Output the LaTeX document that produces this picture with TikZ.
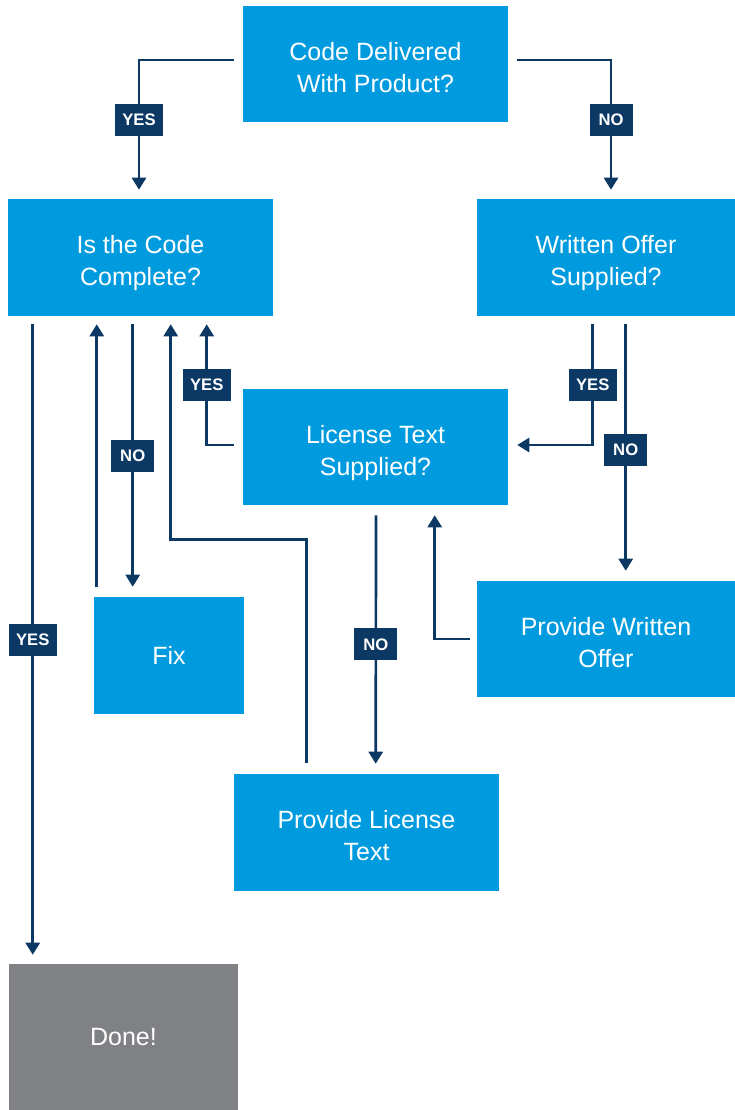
\documentclass[tikz,border=0pt]{standalone}
\usepackage{fontspec}
\setmainfont{Liberation Sans}
\usetikzlibrary{arrows.meta}
\definecolor{boxblue}{RGB}{0,155,222}
\definecolor{navy}{RGB}{12,56,100}
\definecolor{donegray}{RGB}{128,129,132}
\tikzset{
  boxtext/.style={text=white, align=center, inner sep=0pt,
    font=\fontsize{18.75pt}{24pt}\selectfont},
  box/.style={rectangle, fill=boxblue, inner sep=0pt,
    label={[boxtext, yshift=-4.2pt]center:{\strut #1\strut}}},
  onebox/.style={rectangle, fill=boxblue, inner sep=0pt,
    label={[boxtext, yshift=-1.8pt]center:{\strut #1}}},
  donebox/.style={onebox={#1}, fill=donegray},
  conn/.style={draw=navy, line width=2pt},
  arr/.style={conn, -{Triangle[width=10.5pt,length=9pt]}},
  lbl/.style={rectangle, fill=navy, text=white, inner sep=0pt,
    minimum height=24pt, font=\fontsize{12.5pt}{14pt}\selectfont\bfseries},
  yeslbl/.style={lbl, minimum width=36pt},
  nolbl/.style={lbl, minimum width=32.25pt}
}
\begin{document}
\begin{tikzpicture}[x=0.75pt,y=-0.75pt]
\useasboundingbox (0,0) rectangle (735,1110);
\node[box={Code Delivered\\With Product?}, minimum width=198.75pt, minimum height=87pt] (cd) at (375.5,64) {};
\node[box={Is the Code\\Complete?}, minimum width=198.75pt, minimum height=87.75pt] (ic) at (140.5,257.5) {};
\node[box={Written Offer\\Supplied?}, minimum width=193.5pt, minimum height=87.75pt] (wo) at (606,257.5) {};
\node[box={License Text\\Supplied?}, minimum width=198.75pt, minimum height=87pt] (lt) at (375.5,447) {};
\node[onebox={Fix}, minimum width=112.5pt, minimum height=87.75pt] (fix) at (169,655.5) {};
\node[box={Provide Written\\Offer}, minimum width=193.5pt, minimum height=87pt] (pwo) at (606,639) {};
\node[box={Provide License\\Text}, minimum width=198.75pt, minimum height=87.75pt] (plt) at (366.5,832.5) {};
\node[donebox={Done!}, minimum width=171.75pt, minimum height=109.5pt] (done) at (123.5,1037) {};

% Code delivered -> yes / no
\draw[arr] ([shift={(-9,-4)}]cd.west) -| ([shift={(-1.5,-9)}]ic.north)
  node[yeslbl, pos=0.73] {YES};
\draw[arr] ([shift={(9,-4)}]cd.east) -| ([shift={(5,-9)}]wo.north)
  node[nolbl, pos=0.73] {NO};

% Is the code complete
\draw[arr] ([shift={(25,8)}]ic.south west) -- ([shift={(24,-9)}]done.north west)
  node[yeslbl, pos=0.5] {YES};
\draw[arr] ([shift={(125,8)}]ic.south west) -- ([shift={(39,-10)}]fix.north west)
  node[nolbl, pos=0.5] {NO};
\draw[arr] ([shift={(3,-10)}]fix.north west) -- ([shift={(89,8)}]ic.south west);

% Provide license text -> is complete
\draw[arr] ([shift={(73,-11)}]plt.north west) -- ++(0,-223) -| ([shift={(163,8)}]ic.south west);

% License text supplied
\draw[arr] ([shift={(-9,-2)}]lt.west) -| ([shift={(199,8)}]ic.south west)
  node[yeslbl, pos=0.75] {YES};
\draw[arr] ([shift={(0.5,10)}]lt.south) -- ([shift={(142,-10)}]plt.north west)
  node[nolbl, pos=0.52] {NO};

% Written offer supplied
\draw[arr] ([shift={(116,8)}]wo.south west) |- ([shift={(9,-2)}]lt.east)
  node[yeslbl, pos=0.25] {YES};
\draw[arr] ([shift={(149,8)}]wo.south west) -- ([shift={(149,-10)}]pwo.north west)
  node[nolbl, pos=0.51] {NO};

% Provide written offer -> license text
\draw[arr] ([shift={(-7,0)}]pwo.west) -| ([shift={(192,10)}]lt.south west);
\end{tikzpicture}
\end{document}
